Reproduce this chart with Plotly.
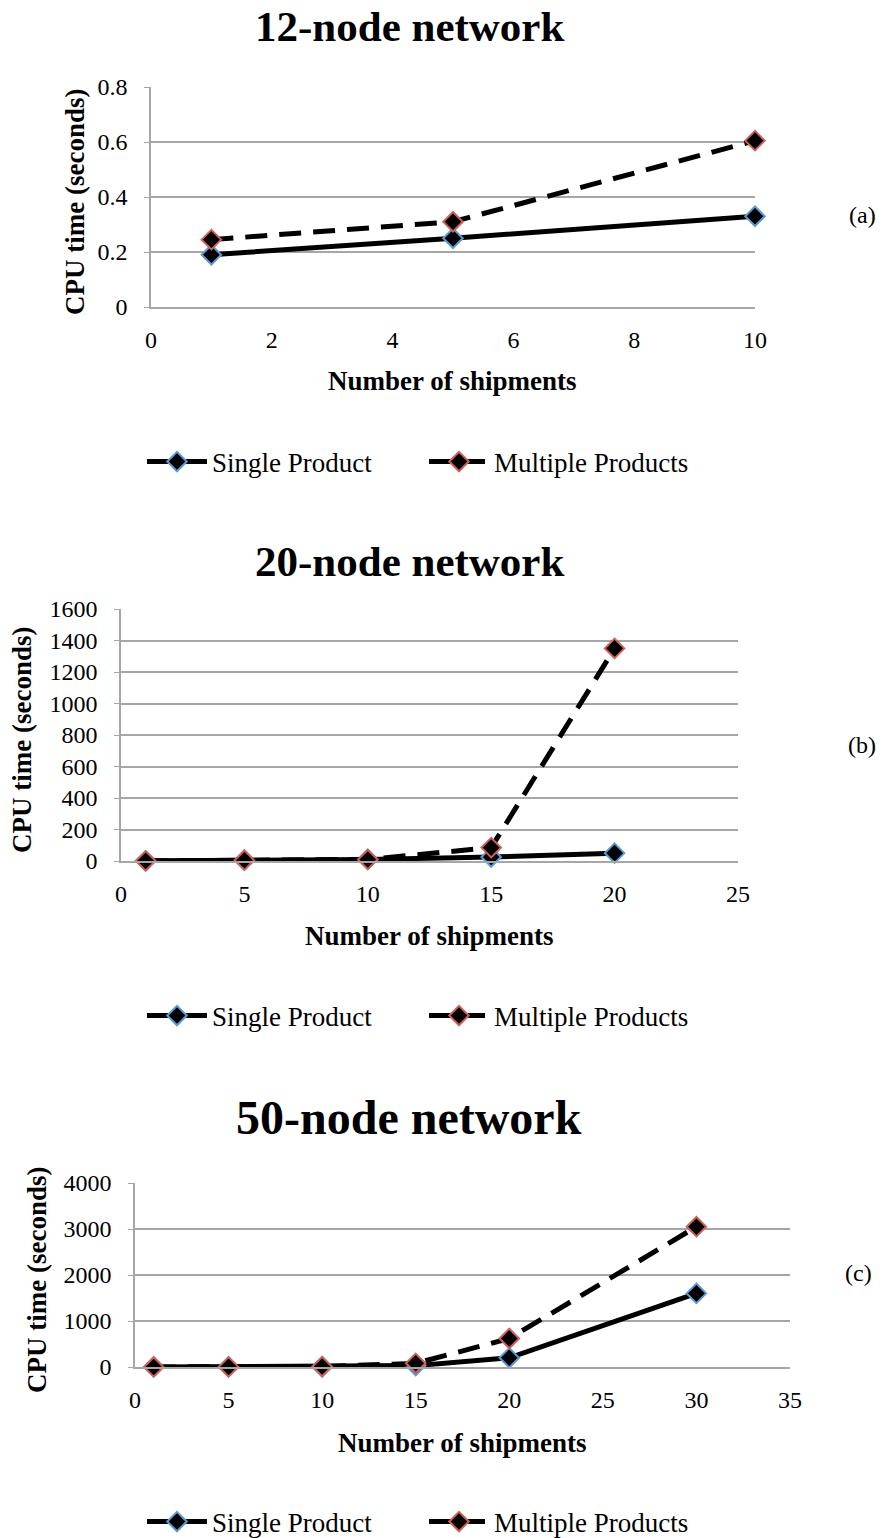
import plotly.graph_objects as go

W, H = 883, 1538

# ---- data ----
x_a = [1, 5, 10]
single_a = [0.19, 0.25, 0.33]
multi_a = [0.245, 0.31, 0.605]

x_b = [1, 5, 10, 15, 20]
single_b = [1, 5, 10, 25, 50]
multi_b = [1, 5, 10, 85, 1350]

x_c = [1, 5, 10, 15, 20, 30]
single_c = [1, 2, 5, 30, 200, 1600]
multi_c = [1, 2, 10, 80, 620, 3050]

titles = ["12-node network", "20-node network", "50-node network"]
panel_labels = ["(a)", "(b)", "(c)"]

FONT = "Liberation Serif"
GRID = "#a6a6a6"
BLUE = "#5b9bd5"
RED = "#d0605a"

def px_x(p):
    return p / W

def px_y(p):
    return 1 - p / H

fig = go.Figure()

panels = [
    dict(x=x_a, s=single_a, m=multi_a, xr=[0, 10], yr=[0, 0.8], dx=2, dy=0.2,
         xd=(151, 755), yd=(87, 307)),
    dict(x=x_b, s=single_b, m=multi_b, xr=[0, 25], yr=[0, 1600], dx=5, dy=200,
         xd=(121, 738), yd=(609, 861)),
    dict(x=x_c, s=single_c, m=multi_c, xr=[0, 35], yr=[0, 4000], dx=5, dy=1000,
         xd=(135, 790), yd=(1183, 1367)),
]

legend_y = [462, 1016, 1522]
legend_x = [142, 142, 142]
title_y = [27, 561, 1117]
title_size = [43, 43, 48]
label_pos = [(862, 215), (862, 745), (858, 1273)]
ytitle_x = [75, 22, 37]
xtitle_y = [381, 936, 1443]

layout = dict(
    width=W, height=H,
    margin=dict(l=0, r=0, t=0, b=0, autoexpand=False),
    paper_bgcolor="white", plot_bgcolor="white",
    font=dict(family=FONT, color="black", size=24),
    showlegend=True,
)
annotations = []

for i, p in enumerate(panels):
    n = "" if i == 0 else str(i + 1)
    xa = "x" + n
    ya = "y" + n
    leg = "legend" + n
    fig.add_trace(go.Scatter(
        x=p["x"], y=p["s"], mode="lines+markers", name="Single Product",
        xaxis=xa, yaxis=ya, legend=leg, cliponaxis=False,
        line=dict(color="black", width=5),
        marker=dict(symbol="diamond", size=15, color="black",
                    line=dict(color=BLUE, width=2)),
    ))
    fig.add_trace(go.Scatter(
        x=p["x"], y=p["m"], mode="lines+markers", name="Multiple Products",
        xaxis=xa, yaxis=ya, legend=leg, cliponaxis=False,
        line=dict(color="black", width=5, dash="22px,12px"),
        marker=dict(symbol="diamond", size=15, color="black",
                    line=dict(color=RED, width=2)),
    ))
    layout["xaxis" + n] = dict(
        domain=[px_x(p["xd"][0]), px_x(p["xd"][1])], range=p["xr"],
        anchor=ya, dtick=p["dx"], tick0=0, showgrid=False, zeroline=False,
        showline=True, linecolor=GRID, linewidth=1.5,
        ticks="", ticklabelstandoff=10,
        tickfont=dict(size=24, family=FONT),
    )
    layout["yaxis" + n] = dict(
        domain=[px_y(p["yd"][1]), px_y(p["yd"][0])], range=p["yr"],
        anchor=xa, dtick=p["dy"], tick0=0, showgrid=True, gridcolor=GRID,
        gridwidth=1.5, zeroline=False, showline=True, linecolor=GRID,
        linewidth=1.5, ticks="outside", ticklen=5, tickcolor=GRID,
        ticklabelstandoff=12, tickfont=dict(size=24, family=FONT),
    )
    layout[leg] = dict(
        orientation="h", x=px_x(legend_x[i]), y=px_y(legend_y[i]),
        xanchor="left", yanchor="middle", entrywidth=207, entrywidthmode="pixels",
        font=dict(size=27, family=FONT), bgcolor="rgba(0,0,0,0)",
        itemwidth=60,
    )
    annotations.append(dict(
        text="<b>%s</b>" % titles[i], x=px_x(409), y=px_y(title_y[i]),
        xref="paper", yref="paper", showarrow=False, xanchor="center",
        yanchor="middle", font=dict(size=title_size[i], family=FONT),
    ))
    annotations.append(dict(
        text=panel_labels[i], x=px_x(label_pos[i][0]), y=px_y(label_pos[i][1]),
        xref="paper", yref="paper", showarrow=False, xanchor="center",
        yanchor="middle", font=dict(size=24, family=FONT),
    ))
    annotations.append(dict(
        text="<b>CPU time (seconds)</b>", x=px_x(ytitle_x[i]),
        y=px_y((p["yd"][0] + p["yd"][1]) / 2 + 5), textangle=-90,
        xref="paper", yref="paper", showarrow=False, xanchor="center",
        yanchor="middle", font=dict(size=27, family=FONT),
    ))
    annotations.append(dict(
        text="<b>Number of shipments</b>",
        x=px_x((p["xd"][0] + p["xd"][1]) / 2), y=px_y(xtitle_y[i]),
        xref="paper", yref="paper", showarrow=False, xanchor="center",
        yanchor="middle", font=dict(size=27, family=FONT),
    ))

layout["annotations"] = annotations
fig.update_layout(**layout)
fig.write_html("out.html")
